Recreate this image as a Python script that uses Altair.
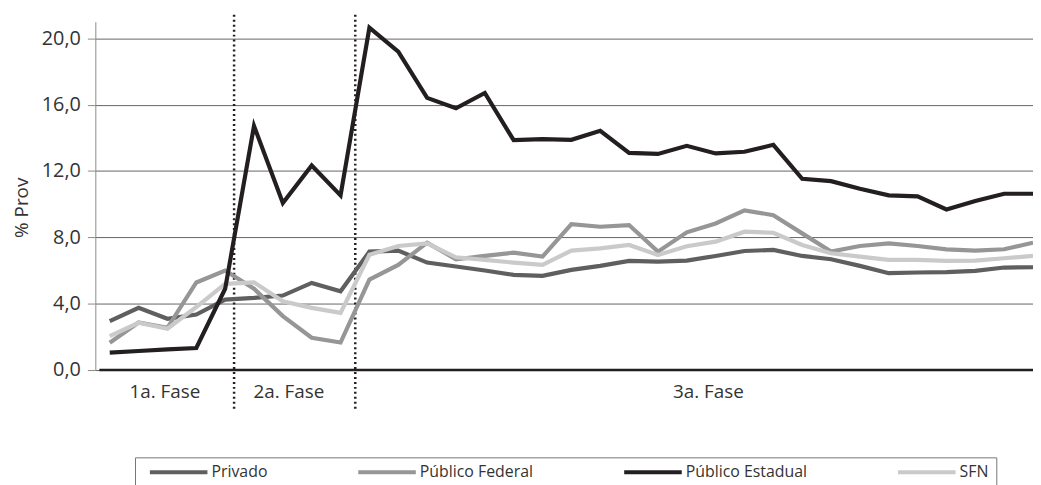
import altair as alt
import pandas as pd

# ---- data ----
periods = list(range(33))
privado = [2.95, 3.75, 3.09, 3.35, 4.25, 4.35, 4.49, 5.25, 4.75, 7.14,
           7.20, 6.48, 6.24, 6.00, 5.74, 5.68, 6.04, 6.28, 6.58, 6.54, 6.60,
           6.88, 7.18, 7.24, 6.88, 6.68, 6.28, 5.84, 5.88, 5.90, 5.98, 6.18, 6.20]
pub_federal = [1.65, 2.87, 2.55, 5.28, 6.00, 4.90, 3.25, 1.95, 1.66, 5.45,
               6.34, 7.68, 6.68, 6.88, 7.08, 6.84, 8.80, 8.64, 8.74, 7.14, 8.30,
               8.84, 9.63, 9.34, 8.24, 7.14, 7.48, 7.64, 7.48, 7.28, 7.20, 7.28, 7.68]
pub_estadual = [1.05, 1.15, 1.25, 1.33, 4.90, 14.72, 10.07, 12.33, 10.53, 20.64,
                19.20, 16.41, 15.78, 16.71, 13.86, 13.92, 13.88, 14.42, 13.09, 13.03, 13.52,
                13.06, 13.16, 13.58, 11.53, 11.39, 10.93, 10.53, 10.47, 9.68, 10.19, 10.63, 10.63]
sfn = [2.05, 2.85, 2.49, 3.80, 5.20, 5.29, 4.15, 3.75, 3.45, 6.95,
       7.48, 7.64, 6.80, 6.64, 6.48, 6.34, 7.20, 7.34, 7.54, 6.94, 7.46,
       7.74, 8.34, 8.28, 7.54, 7.04, 6.84, 6.64, 6.64, 6.58, 6.60, 6.74, 6.88]

series_names = ["Privado", "Público Federal", "Público Estadual", "SFN"]
series_colors = ["#5f5f5f", "#969696", "#231f20", "#cacaca"]

phase_labels = ["1a. Fase", "2a. Fase", "3a. Fase"]
phase_label_pos = [1.91, 6.21, 20.75]
phase_bounds = [4.31, 8.51]
y_ticks = [0, 4, 8, 12, 16, 20]

# ---- tables ----
rows = []
for name, vals in [("Privado", privado), ("Público Federal", pub_federal),
                   ("SFN", sfn), ("Público Estadual", pub_estadual)]:
    for p, v in zip(periods, vals):
        rows.append({"t": p, "v": v, "serie": name})
df = pd.DataFrame(rows)

df_phase = pd.DataFrame({"x": phase_label_pos, "label": phase_labels, "y": [-1.32] * 3})
df_bounds = pd.DataFrame({"x": phase_bounds, "y": [21.42] * 2, "y2": [-2.33] * 2})
df_zero = pd.DataFrame({"x": [-0.36], "x2": [32], "y": [0]})

FONT = "Open Sans"
x_scale = alt.Scale(domain=[-0.5, 32], nice=False, zero=False)
y_scale = alt.Scale(domain=[0, 21], nice=False, zero=False)

bounds = alt.Chart(df_bounds).mark_rule(
    color="#231f20", strokeWidth=2.5, strokeDash=[2, 3]
).encode(
    x=alt.X("x:Q", scale=x_scale, axis=None),
    y=alt.Y("y:Q", scale=y_scale),
    y2="y2:Q",
)

lines = alt.Chart(df).mark_line(strokeWidth=4.2).encode(
    x=alt.X("t:Q", scale=x_scale, axis=None),
    y=alt.Y(
        "v:Q",
        scale=y_scale,
        axis=alt.Axis(
            values=y_ticks,
            labelExpr="replace(format(datum.value, '.1f'), '.', ',')",
            title="% Prov",
            grid=True,
            gridColor="#666666",
            gridWidth=1,
            domainColor="#8a8a8a",
            tickColor="#8a8a8a",
            tickSize=8,
            labelPadding=7,
            labelFont=FONT,
            labelFontSize=20,
            labelColor="#333333",
            titleFont=FONT,
            titleFontSize=19,
            titleFontWeight="normal",
            titleColor="#333333",
            titleX=-74,
            titleY=187,
            titleAngle=270,
            titleAlign="center",
            titleBaseline="middle",
        ),
    ),
    color=alt.Color(
        "serie:N",
        scale=alt.Scale(domain=series_names, range=series_colors),
        legend=alt.Legend(
            orient="none",
            legendX=40,
            legendY=439,
            direction="horizontal",
            columns=4,
            title=None,
            symbolType="M0,0H11.6",
            symbolSize=100,
            symbolStrokeWidth=4,
            labelFont=FONT,
            labelFontSize=16,
            labelColor="#333333",
            labelOffset=54,
            labelLimit=300,
            columnPadding=83,
            padding=7,
            strokeColor="#777777",
        ),
    ),
)

zero = alt.Chart(df_zero).mark_rule(color="#231f20", strokeWidth=2.5).encode(
    x=alt.X("x:Q", scale=x_scale, axis=None),
    x2="x2:Q",
    y=alt.Y("y:Q", scale=y_scale),
)

phases = alt.Chart(df_phase).mark_text(
    font=FONT, fontSize=19, color="#333333", baseline="middle", align="center"
).encode(
    x=alt.X("x:Q", scale=x_scale, axis=None),
    y=alt.Y("y:Q", scale=y_scale),
    text="label:N",
)

chart = alt.layer(bounds, lines, zero, phases).properties(
    width=945,
    height=351,
    autosize=alt.AutoSizeParams(type="none"),
    padding={"left": 88, "top": 12, "right": 0, "bottom": 114},
).configure_view(stroke=None)

chart.save("out.html", embed_options={"renderer": "svg", "actions": False})
